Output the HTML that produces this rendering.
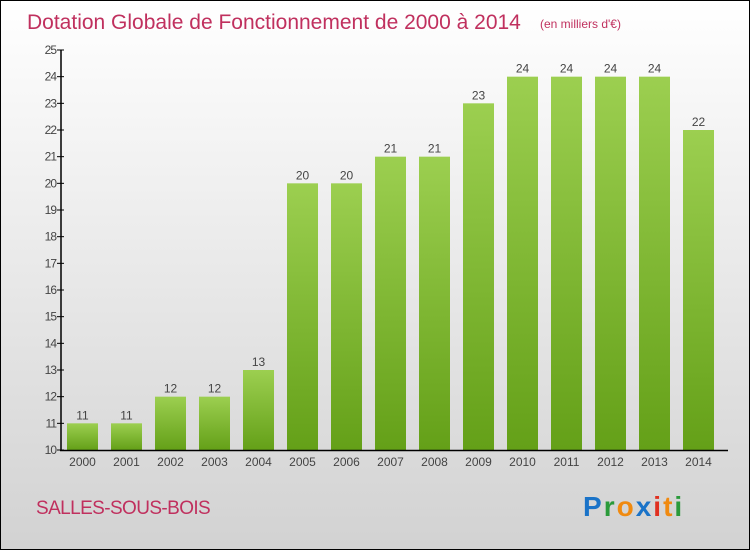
<!DOCTYPE html>
<html><head><meta charset="utf-8"><style>
html,body{margin:0;padding:0}
body{width:750px;height:550px;overflow:hidden;font-family:"Liberation Sans",sans-serif}
#frame{position:absolute;left:0;top:0;width:748px;height:548px;border:1px solid #000;background:linear-gradient(#ffffff,#d2d2d2)}
</style></head><body>
<div id="frame">
<svg width="750" height="550" style="position:absolute;left:-1px;top:-1px" id="svg">
<defs><linearGradient id="bg" x1="0" y1="0" x2="0" y2="1"><stop offset="0" stop-color="#9ccf50"/><stop offset="1" stop-color="#64a018"/></linearGradient></defs>
<text x="27" y="29" font-size="21" fill="#c0305e">Dotation Globale de Fonctionnement de 2000 à 2014</text>
<text x="540" y="28" font-size="12" fill="#c0305e">(en milliers d'€)</text>
<text x="36" y="514" font-size="19" fill="#c0305e" letter-spacing="-0.6">SALLES-SOUS-BOIS</text>
<g id="plot"></g>
<text x="583" y="516" font-size="28" font-weight="bold" letter-spacing="2"><tspan fill="#1a73c8">P</tspan><tspan fill="#2a9a3a">r</tspan><tspan fill="#f08a10">o</tspan><tspan fill="#1a73c8">x</tspan><tspan fill="#e03020">i</tspan><tspan fill="#f08a10">t</tspan><tspan fill="#2a9a3a">i</tspan></text>
</svg>
</div>
<script>
const years=["2000","2001","2002","2003","2004","2005","2006","2007","2008","2009","2010","2011","2012","2013","2014"];
const values=[11,11,12,12,13,20,20,21,21,23,24,24,24,24,22];
const yTicks=[10,11,12,13,14,15,16,17,18,19,20,21,22,23,24,25];
const NS="http://www.w3.org/2000/svg";
const g=document.getElementById('plot');
const y=v=>450-(v-10)*400/15;
const x=i=>82.5+i*44;
function el(t,a){const e=document.createElementNS(NS,t);for(const k in a)e.setAttribute(k,a[k]);g.appendChild(e);return e;}
yTicks.forEach(t=>{
 const l=el('line',{x1:57,x2:64,y1:y(t),y2:y(t),stroke:'#000'});
 
 
 const tx=el('text',{x:56,y:y(t)+4,'text-anchor':'end','font-size':12,fill:'#444','letter-spacing':'-1'});
 tx.textContent=t;
 
 
});
values.forEach((v,i)=>{
 const r=el('rect',{x:x(i)-15.5,y:y(v),width:31,height:450-y(v),fill:'url(#bg)'});
 
 
 const t=el('text',{x:x(i),y:y(v)-4,'text-anchor':'middle','font-size':12,fill:'#444'});
 t.textContent=v;
 
 
 const xl=el('text',{x:x(i),y:466,'text-anchor':'middle','font-size':12,fill:'#444'});
 xl.textContent=years[i];
 
 
});
const ax=el('line',{x1:61,x2:61,y1:50,y2:451,stroke:'#000','stroke-width':1.5});


const bx=el('line',{x1:60,x2:728,y1:450.5,y2:450.5,stroke:'#000','stroke-width':1.5});


</script>
</body></html>
